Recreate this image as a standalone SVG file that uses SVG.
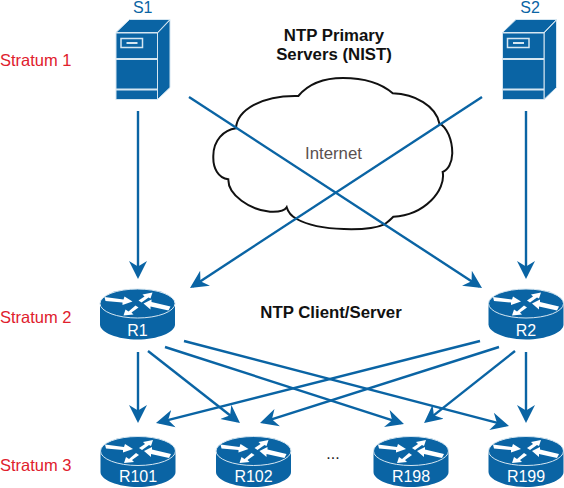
<svg xmlns="http://www.w3.org/2000/svg" width="564" height="488" viewBox="0 0 564 488">
<style>
text{font-family:"Liberation Sans",Arial,sans-serif}
.st{font-size:16.500px;fill:#e0202c}
.lab{font-size:16px;fill:#0a64a4}
.b{font-size:16.800px;font-weight:bold;fill:#111;text-anchor:middle}
.rl{font-size:16px;fill:#fff;text-anchor:middle}
.f{fill:#0a64a4}
.e{fill:#0a64a4;stroke:#d5e6f1;stroke-width:1}
.w{fill:#fff}
.c{fill:none;stroke:#0a64a4;stroke-width:2.400}
.cl{fill:#fff;stroke:#111;stroke-width:2}
</style>
<defs>
<marker id="a" markerUnits="userSpaceOnUse" markerWidth="22" markerHeight="22" refX="15" refY="9.500" orient="auto"><path d="M18 9.500L0 .5L5.500 9.500L0 18.500Z" fill="#0a64a4"/></marker>
<g id="srv">
<path class="e" d="M0 13L13.500 0H54L41.500 13Z"/>
<path class="e" d="M41.500 13.500L54 .5V68L41.500 80Z"/>
<rect class="e" x="0" y="13.500" width="41.500" height="66.500"/>
<path d="M0 39.500H41.500M0 70H41.500" stroke="#d5e6f1" stroke-width="2" fill="none"/>
<rect x="5" y="19" width="21.500" height="9" fill="none" stroke="#d5e6f1" stroke-width="1.500"/>
<path d="M10.500 23.500H21.500" stroke="#d5e6f1" stroke-width="2"/>
</g>
<g id="rt">
<path class="f" d="M-37.500 0V21C-37.500 29 -20 36 0 36S37.500 29 37.500 21V0Z"/>
<ellipse class="e" cx="0" cy="0" rx="37.500" ry="14.500"/>
<path class="w" d="M-33 -6.500L-14 -4L-13 -7L-5 -2L-15 1.500L-15 -1L-32 -2.500Z"/>
<path class="w" d="M1 -3L7 -7L5 -9L15 -11L13 -5L11 -6L4 -1Z"/>
<path class="w" d="M6 0L14 -4L14 -1.500L33 3L31 7L13 3L13 6Z"/>
<path class="w" d="M1 4L-6 9L-4 11L-14 12L-12 6L-9 8L-2 2Z"/>
</g>
</defs>
<g id="cloud">
<path class="cl" d="M298.300 96C310 82 327 78 343 78C365 78 382 84 392.700 93.300C415 94 436 106 439.300 123.300C447 127 452.300 140 452.300 153.300C452 163 448 170 442.700 172C446 190 425 215 393.300 216.700C391 219 388 222 384.300 224.300C370 231 320 232 296.700 219C291 216 288 212 286.700 207.300C284 212 276 212 270 211.700C250 210 228 195 228.300 179.300C218 178 213 168 213.300 156.700C213 140 224 130 236 128.300C237 110 262 95 298.300 96Z"/>
<text x="333.500" y="159" text-anchor="middle" font-size="16.800" fill="#5a5050">Internet</text>
</g>
<g id="connectors">
<path class="c" marker-end="url(#a)" d="M138 111V276"/>
<path class="c" marker-end="url(#a)" d="M526 111V276"/>
<path class="c" marker-end="url(#a)" d="M189 97L479.500 286.400"/>
<path class="c" marker-end="url(#a)" d="M482 97L192.500 286.400"/>
<path class="c" marker-end="url(#a)" d="M138 352V420"/>
<path class="c" marker-end="url(#a)" d="M148 351L237.600 421.200"/>
<path class="c" marker-end="url(#a)" d="M165 347L401.100 423.100"/>
<path class="c" marker-end="url(#a)" d="M184 341L506.100 425.200"/>
<path class="c" marker-end="url(#a)" d="M480 341L158.900 422.300"/>
<path class="c" marker-end="url(#a)" d="M499 347L262.900 422.100"/>
<path class="c" marker-end="url(#a)" d="M515 351L426.400 421.100"/>
<path class="c" marker-end="url(#a)" d="M526 352V420"/>
</g>
<g id="S1"><use href="#srv" x="116" y="19.500"/><text class="lab" x="142.700" y="13" text-anchor="middle">S1</text></g>
<g id="S2"><use href="#srv" x="502.500" y="19.500"/><text class="lab" x="530" y="13" text-anchor="middle">S2</text></g>
<g id="R1"><use href="#rt" x="137.500" y="303.500"/><text class="rl" x="137.500" y="336">R1</text></g>
<g id="R2"><use href="#rt" x="526" y="303.500"/><text class="rl" x="526" y="336">R2</text></g>
<g id="R101"><use href="#rt" x="138" y="451"/><text class="rl" x="138" y="482">R101</text></g>
<g id="R102"><use href="#rt" x="253.500" y="451"/><text class="rl" x="253.500" y="482">R102</text></g>
<g id="R198"><use href="#rt" x="411" y="451"/><text class="rl" x="411" y="482">R198</text></g>
<g id="R199"><use href="#rt" x="526" y="451"/><text class="rl" x="526" y="482">R199</text></g>
<text class="st" x="0" y="66">Stratum 1</text>
<text class="st" x="0" y="323">Stratum 2</text>
<text class="st" x="0" y="471">Stratum 3</text>
<text class="b" x="334" y="41">NTP Primary</text>
<text class="b" x="334" y="60">Servers (NIST)</text>
<text class="b" x="331" y="318">NTP Client/Server</text>
<text x="333" y="459" text-anchor="middle" font-size="16" fill="#222">...</text>
</svg>
